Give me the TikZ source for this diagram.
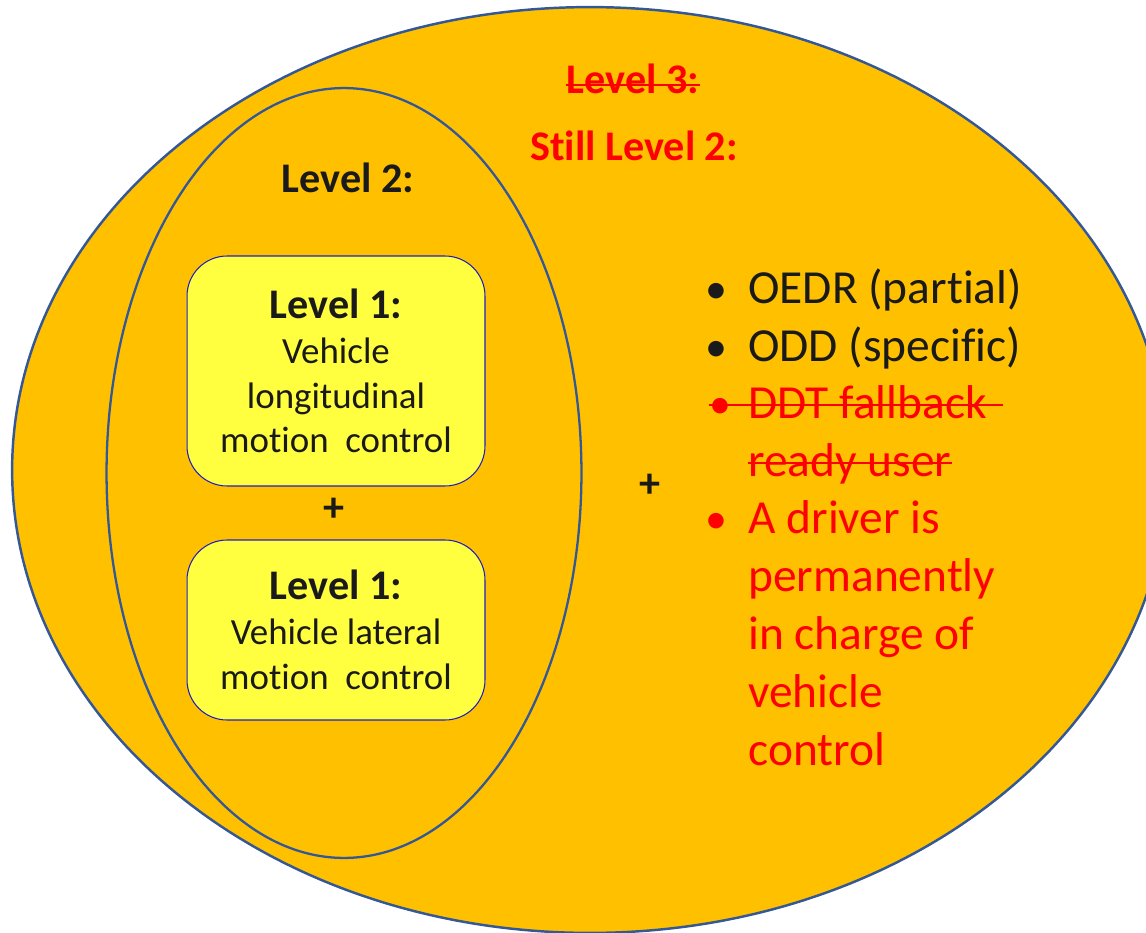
\documentclass[tikz,border=0pt]{standalone}
\definecolor{lvl_gold}{RGB}{255, 192, 0}
\definecolor{lvl_edge}{RGB}{52, 88, 150}
\definecolor{lvl_yellow}{RGB}{255, 255, 64}
\definecolor{lvl_boxedge}{RGB}{30, 30, 200}
\definecolor{lvl_red}{RGB}{255, 0, 0}
\definecolor{lvl_ink}{RGB}{26, 26, 26}
\usepackage{fontspec}
\setmainfont[Ligatures={NoCommon}]{Carlito}
\usepackage{tikz}
\usetikzlibrary{positioning}

\tikzset{
  l1box/.style={draw=lvl_boxedge, line width=0.6pt, fill=lvl_yellow,
    rounded corners=0.8cm, minimum width=5.96cm, align=center, inner sep=0pt,
    text=lvl_ink, font=\fontsize{21}{25.5}\selectfont},
  head/.style={font=\fontsize{24}{29}\selectfont\bfseries, anchor=base, inner sep=0pt},
  itemline/.style={font=\fontsize{27}{32}\selectfont, anchor=base west, inner sep=0pt},
  bulletmark/.style={font=\fontsize{25}{32}\selectfont, anchor=base, inner sep=0pt},
  strike/.style={draw=lvl_red, line width=1.6pt},
}

\begin{document}
\begin{tikzpicture}[x=0.02cm, y=-0.02cm]
        \useasboundingbox (0,0) rectangle (1146,933);
        \clip (0,0) rectangle (1146,933);

        % --- Level 3 ellipse (outer) ---
        \filldraw[fill=lvl_gold, draw=lvl_edge, line width=1.4pt]
          (590,470) ellipse [x radius=11.56cm, y radius=9.26cm];

        % --- Level 2 ellipse (inner) ---
        \filldraw[fill=lvl_gold, draw=lvl_edge, line width=1.3pt]
          (344,473) ellipse [x radius=4.75cm, y radius=7.7cm];
        \node[head, text=lvl_ink] (lvl2) at (348,192) {Level 2:};

        % --- Level 1 boxes ---
        \node[l1box, minimum height=4.6cm] (long) at (336,371)
          {{\fontsize{24}{29}\selectfont\bfseries Level 1:}\\Vehicle\\longitudinal\\motion~ control};
        \node[head, text=lvl_ink] (plus1) at (334,521) {+};
        \node[l1box, minimum height=3.6cm] (lat) at (336,630)
          {{\fontsize{24}{29}\selectfont\bfseries Level 1:}\\Vehicle lateral\\motion~ control};

        % --- headings top right ---
        \node[head, text=lvl_red] (lvl3) at (633,93) {Level 3:};
        \draw[strike] ([yshift=4.6pt]lvl3.base west) -- ([yshift=4.6pt]lvl3.base east);
        \node[head, text=lvl_red] (still) at (634,160) {Still Level 2:};
        \node[head, text=lvl_ink] (plus2) at (650,497) {+};

        % --- list ---
        \node[bulletmark, text=lvl_ink] (oedr-b) at (716,303) {•};
        \node[itemline, text=lvl_ink] (oedr) at (748,303) {OEDR (partial)};
        \node[bulletmark, text=lvl_ink] (odd-b) at (716,361) {•};
        \node[itemline, text=lvl_ink] (odd) at (748,361) {ODD (specific)};
        \node[itemline, text=lvl_red] (ddt) at (709,418)
          {\makebox[22pt][l]{\fontsize{25}{32}\selectfont•}DDT fallback\kern9pt};
        \draw[strike] ([yshift=7.4pt]ddt.base west) -- ([yshift=7.4pt]ddt.base east);
        \node[itemline, text=lvl_red] (ready) at (748,476) {ready user};
        \draw[strike] ([yshift=7.4pt]ready.base west) -- ([yshift=7.4pt]ready.base east);
        \node[bulletmark, text=lvl_red] (charge-b) at (716,533) {•};
        \foreach \txt [count=\i] in {A driver is, permanently, in charge of, vehicle, control} {
          \node[itemline, text=lvl_red] (charge-\i) at (748, 475+58*\i) {\txt};
        }
      \end{tikzpicture}
\end{document}
